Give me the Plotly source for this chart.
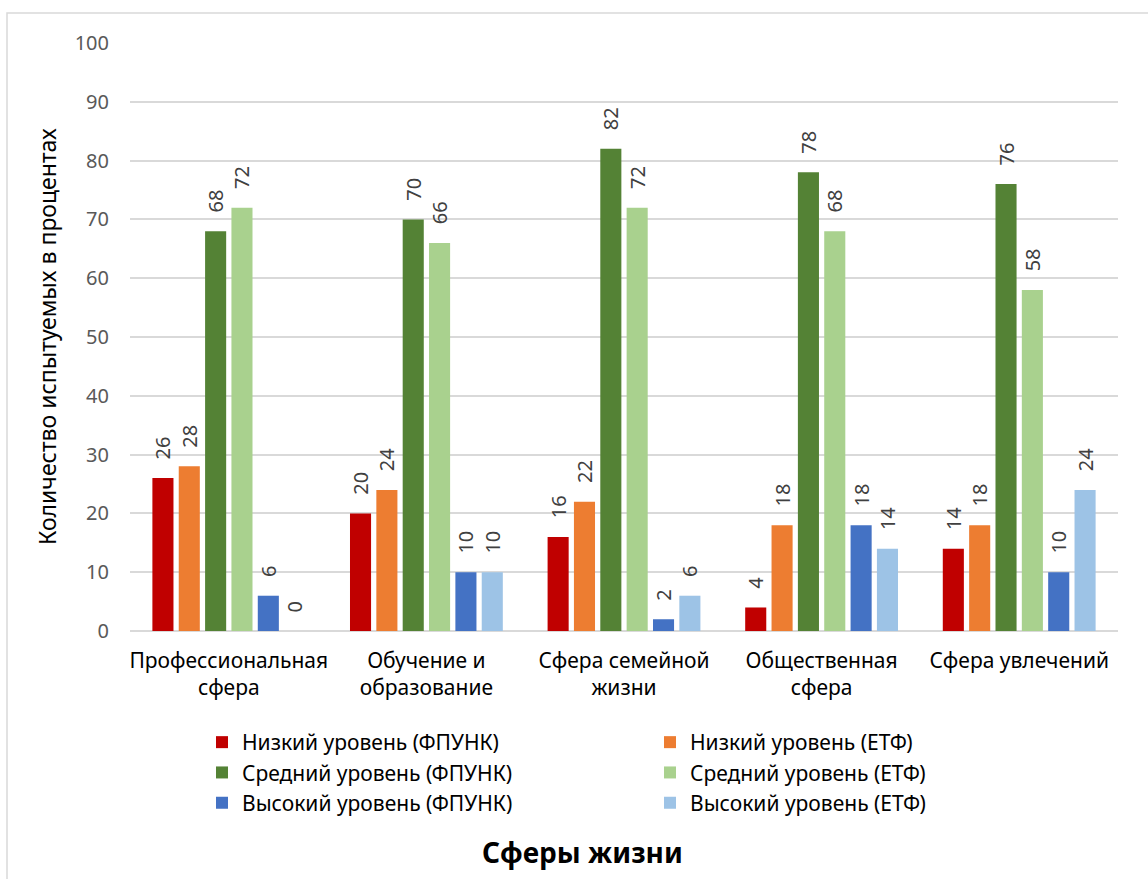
import plotly.graph_objects as go

categories = [
    "Профессиональная<br>сфера",
    "Обучение и<br>образование",
    "Сфера семейной<br>жизни",
    "Общественная<br>сфера",
    "Сфера увлечений",
]

series_names = [
    "Низкий уровень (ФПУНК)",
    "Низкий уровень (ЕТФ)",
    "Средний уровень (ФПУНК)",
    "Средний уровень (ЕТФ)",
    "Высокий уровень (ФПУНК)",
    "Высокий уровень (ЕТФ)",
]

low_fpunk = [26, 20, 16, 4, 14]
low_etf = [28, 24, 22, 18, 18]
mid_fpunk = [68, 70, 82, 78, 76]
mid_etf = [72, 66, 72, 68, 58]
high_fpunk = [6, 10, 2, 18, 10]
high_etf = [0, 10, 6, 14, 24]

series_values = [low_fpunk, low_etf, mid_fpunk, mid_etf, high_fpunk, high_etf]
series_colors = ["#C00000", "#ED7D31", "#548235", "#A9D18E", "#4472C4", "#9DC3E6"]

y_ticks = list(range(0, 101, 10))

FONT = "Noto Sans"
W, H = 1148, 879
ML, MR, MT, MB = 130, 30, 43, 248
PW, PH = W - ML - MR, H - MT - MB


def px_x(x):
    return (x - ML) / PW


def px_y(y):
    return (H - MB - y) / PH


fig = go.Figure()
for name, vals, color in zip(series_names, series_values, series_colors):
    fig.add_trace(go.Bar(
        name=name,
        x=categories,
        y=vals,
        marker=dict(color=color, line=dict(width=0)),
        text=vals,
        texttemplate="\u00a0\u00a0\u00a0%{y}",
        textposition="outside",
        textangle=-90,
        constraintext="none",
        textfont=dict(family=FONT, size=20, color="#404040"),
        cliponaxis=False,
    ))

fig.update_layout(
    width=W,
    height=H,
    margin=dict(l=ML, r=MR, t=MT, b=MB, autoexpand=False),
    paper_bgcolor="white",
    plot_bgcolor="white",
    barmode="group",
    bargap=0.2,
    bargroupgap=0.2,
    font=dict(family=FONT, color="#000000"),
    xaxis=dict(
        tickfont=dict(family=FONT, size=21, color="#000000"),
        showgrid=False,
        showline=False,
        ticks="",
        ticklabelstandoff=15,
    ),
    yaxis=dict(
        range=[0, 100],
        tickvals=y_ticks,
        tickfont=dict(family=FONT, size=20, color="#595959"),
        showgrid=True,
        gridcolor="#D9D9D9",
        gridwidth=1.5,
        zeroline=True,
        zerolinecolor="#D9D9D9",
        zerolinewidth=1.5,
        ticks="",
        ticklabelstandoff=20,
    ),
    legend=dict(
        orientation="h",
        entrywidth=403,
        entrywidthmode="pixels",
        xref="container",
        yref="container",
        x=202 / W,
        xanchor="left",
        y=1 - 722 / H,
        yanchor="top",
        font=dict(family=FONT, size=21, color="#000000"),
        traceorder="normal",
        itemclick=False,
        tracegroupgap=0,
    ),
    annotations=[
        dict(
            text="Количество испытуемых в процентах",
            xref="paper", yref="paper",
            x=px_x(47), y=px_y(337),
            xanchor="center", yanchor="middle",
            textangle=-90,
            showarrow=False,
            font=dict(family=FONT, size=23, color="#000000"),
        ),
        dict(
            text="<b>Сферы жизни</b>",
            xref="paper", yref="paper",
            x=px_x(582), y=px_y(852),
            xanchor="center", yanchor="middle",
            showarrow=False,
            font=dict(family=FONT, size=28, color="#000000"),
        ),
    ],
    shapes=[
        dict(
            type="rect",
            xref="paper", yref="paper",
            x0=px_x(7), x1=px_x(1160),
            y0=px_y(900), y1=px_y(13),
            line=dict(color="#D9D9D9", width=1.5),
            fillcolor="rgba(0,0,0,0)",
            layer="below",
        )
    ],
)

fig.write_html("out.html")
